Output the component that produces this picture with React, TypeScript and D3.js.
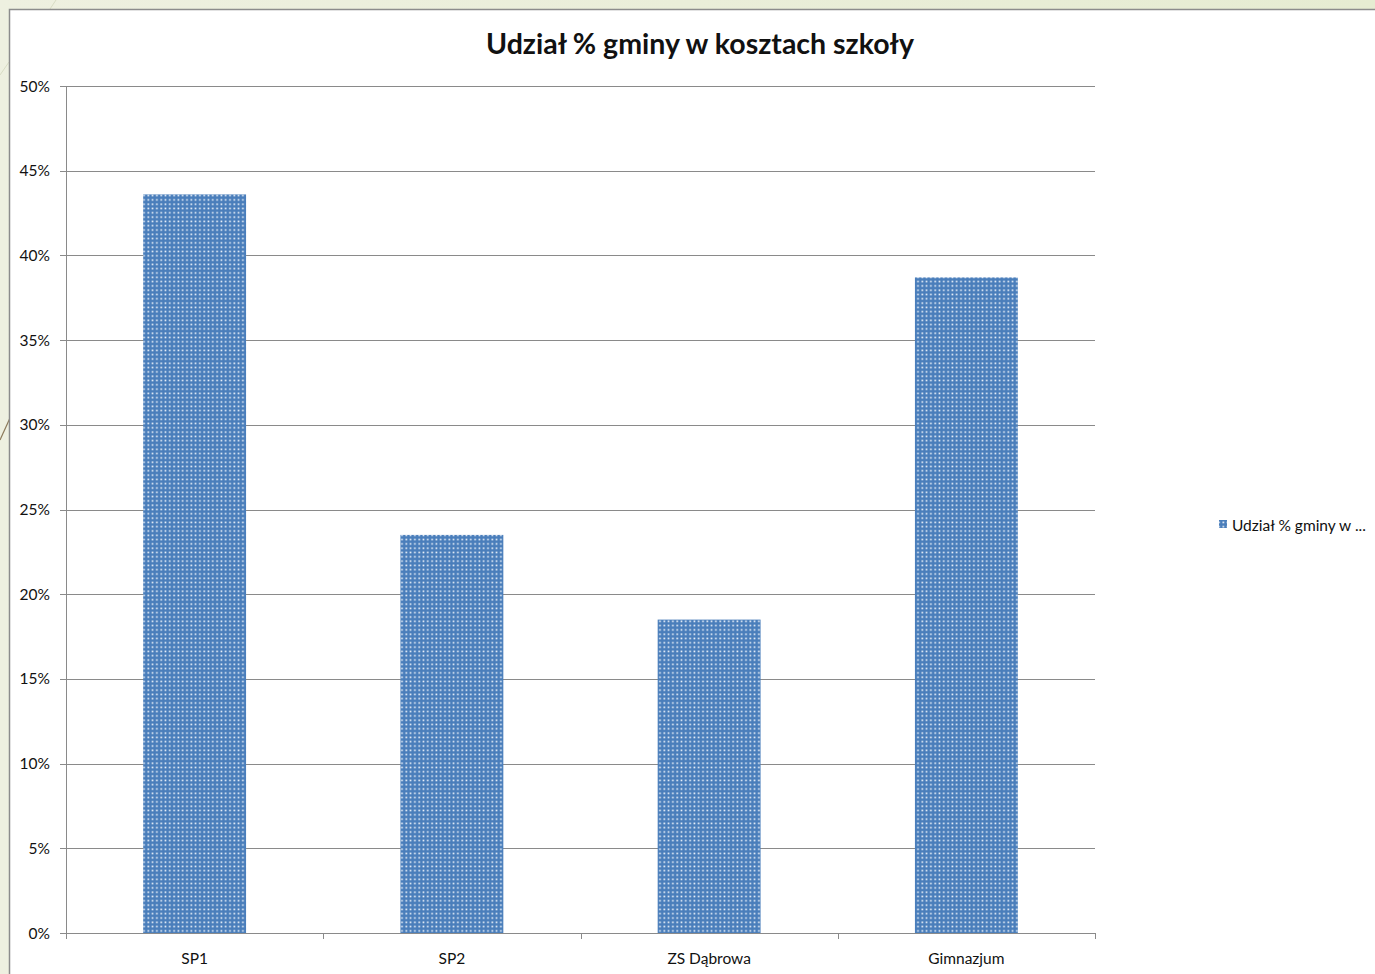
import React from "react";
import * as d3 from "d3";

const categories = ["SP1", "SP2", "ZS Dąbrowa", "Gimnazjum"];
const values = [0.436, 0.235, 0.185, 0.387];
const yTicks = [0, 0.05, 0.1, 0.15, 0.2, 0.25, 0.3, 0.35, 0.4, 0.45, 0.5];
const title = "Udział % gminy w kosztach szkoły";
const legendLabel = "Udział % gminy w ...";

const W = 1375;
const H = 974;
const plot = { left: 66, right: 1095, top: 86, bottom: 933 };
const FONT = "Lato, 'Open Sans', sans-serif";

export default function App() {
  const x = d3
    .scaleBand<string>()
    .domain(categories)
    .range([plot.left, plot.right])
    .paddingInner(0.6)
    .paddingOuter(0.3);
  const y = d3.scaleLinear().domain([0, 0.5]).range([plot.bottom, plot.top]);
  const step = (plot.right - plot.left) / categories.length;
  const fmt = d3.format(".0%");
  const grid = "#8a8a8a";

  return (
    <svg
      width={W}
      height={H}
      style={{ position: "absolute", left: 0, top: 0, display: "block" }}
      fontFamily={FONT}
    >
      <defs>
        <linearGradient id="bg" x1="0" y1="0" x2="1" y2="0">
          <stop offset="0" stopColor="#eef0e0" />
          <stop offset="1" stopColor="#e6ecd2" />
        </linearGradient>
        <pattern id="dots" width="4.3" height="4.3" patternUnits="userSpaceOnUse">
          <rect width="4.3" height="4.3" fill="#4a7ebb" />
          <rect x="1.3" y="1.3" width="1.6" height="1.6" fill="#f2f6fc" />
        </pattern>
      </defs>
      <rect width={W} height={H} fill="url(#bg)" />
      <line x1={0} y1={75} x2={9} y2={62} stroke="#d8dcc4" strokeWidth={1} />
      <line x1={50} y1={9} x2={56} y2={0} stroke="#d8dcc4" strokeWidth={1} />
      <line x1={0} y1={440} x2={10} y2={418} stroke="#8c7a5a" strokeWidth={1.2} />
      <rect x={9.5} y={9.5} width={W} height={H} fill="#ffffff" stroke="#8c8c8c" strokeWidth={1.5} />

      <text
        x={700}
        y={54}
        textAnchor="middle"
        fontSize={28.5}
        fontWeight={700}
        fill="#111"
        fontFamily={FONT}
      >
        {title}
      </text>

      {yTicks.map((t) => (
        <g key={t}>
          <line
            x1={plot.left - 6}
            x2={plot.right}
            y1={Math.round(y(t)) + 0.5}
            y2={Math.round(y(t)) + 0.5}
            stroke={grid}
            strokeWidth={1}
          />
          <text
            x={50}
            y={y(t) + 5.5}
            textAnchor="end"
            fontSize={15.5}
            fill="#111"
          >
            {fmt(t)}
          </text>
        </g>
      ))}
      <line
        x1={plot.left + 0.5}
        x2={plot.left + 0.5}
        y1={plot.top}
        y2={plot.bottom + 6}
        stroke={grid}
        strokeWidth={1}
      />
      {d3.range(1, categories.length + 1).map((i) => (
        <line
          key={i}
          x1={Math.round(plot.left + i * step) + 0.5}
          x2={Math.round(plot.left + i * step) + 0.5}
          y1={plot.bottom}
          y2={plot.bottom + 6}
          stroke={grid}
          strokeWidth={1}
        />
      ))}

      {categories.map((c, i) => (
        <g key={c}>
          <rect
            x={x(c)!}
            y={y(values[i])}
            width={x.bandwidth()}
            height={plot.bottom - y(values[i])}
            fill="url(#dots)"
          />
          <text
            x={x(c)! + x.bandwidth() / 2}
            y={964}
            textAnchor="middle"
            fontSize={15.5}
            fill="#111"
          >
            {c}
          </text>
        </g>
      ))}

      <rect x={1219} y={520} width={8} height={8} fill="url(#dots)" />
      <text x={1232} y={531} fontSize={15.5} fill="#111">
        {legendLabel}
      </text>
    </svg>
  );
}
